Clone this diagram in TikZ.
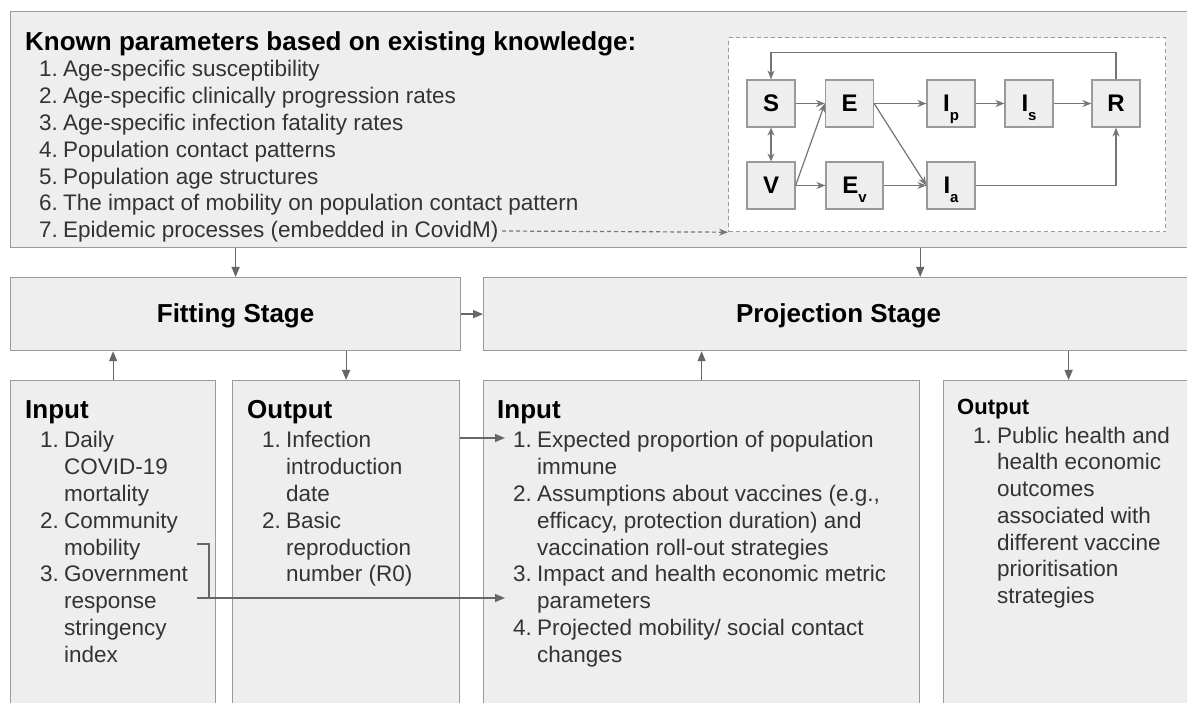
\documentclass[tikz,border=0pt]{standalone}
\usepackage{fontspec}
\setmainfont{Liberation Sans}
\usetikzlibrary{arrows.meta}
\definecolor{boxfill}{HTML}{EEEEEE}
\definecolor{boxline}{HTML}{9A9A9A}
\definecolor{connc}{HTML}{666666}
\definecolor{txtc}{HTML}{333333}
\newcommand\lnum[1]{\makebox[24pt][l]{#1}}
\newcommand\lind{\hspace*{24pt}}
\newcommand\subsc[1]{\raisebox{-9pt}{\fontsize{15}{15}\selectfont #1}}
\begin{document}
\begin{tikzpicture}[x=1pt,y=-1pt,
  panel/.style={draw=boxline, fill=boxfill, line width=1.2pt, inner sep=0pt, anchor=north west},
  seir/.style={draw=boxline, fill=boxfill, line width=1.2pt, minimum width=48pt, minimum height=47pt,
     inner sep=0pt, font=\fontsize{24}{24}\selectfont\bfseries, text height=17pt, text depth=0pt},
  conn/.style={draw=connc, line width=1.2pt, -{Triangle[length=10pt,width=8pt]}},
  plainline/.style={draw=connc, line width=1.2pt},
  sconn/.style={draw=connc!90, line width=1.2pt, -{Stealth[length=9pt,width=7pt]}},
  headtxt/.style={inner sep=0pt, anchor=base west, font=\fontsize{26}{30}\selectfont\bfseries},
  stagetxt/.style={inner sep=0pt, anchor=base, font=\fontsize{26}{30}\selectfont\bfseries},
  listtxt/.style={inner sep=0pt, anchor=base west, text=txtc, font=\fontsize{22.5}{26.8}\selectfont},
]
\useasboundingbox (0,0) rectangle (1187,703);
\fill[white] (0,0) rectangle (1187,703);
\clip (0,0) rectangle (1187,703);

% panels
\node[panel, minimum width=1183pt, minimum height=236pt] (top) at (10,11) {};
\node[panel, minimum width=450pt, minimum height=73pt] (fit) at (10,277) {};
\node[panel, minimum width=710pt, minimum height=73pt] (proj) at (483,277) {};
\node[panel, minimum width=205pt, minimum height=340pt] (inL) at (10,380) {};
\node[panel, minimum width=227pt, minimum height=340pt] (outL) at (232,380) {};
\node[panel, minimum width=436pt, minimum height=340pt] (inP) at (483,380) {};
\node[panel, minimum width=250pt, minimum height=340pt] (outP) at (943,380) {};

% dashed model box
\node[draw=boxline, fill=white, line width=1.2pt, dash pattern=on 4pt off 3pt, inner sep=0pt,
      anchor=north west, minimum width=437pt, minimum height=194pt] (dbox) at (728,37) {};

% top text
\node[headtxt] (title) at (25,51) {Known parameters based on existing knowledge:};
\node[listtxt] (klist) at (39,77) {\begin{tabular}[t]{@{}l@{}}
\lnum{1.}Age-specific susceptibility\\
\lnum{2.}Age-specific clinically progression rates\\
\lnum{3.}Age-specific infection fatality rates\\
\lnum{4.}Population contact patterns\\
\lnum{5.}Population age structures\\
\lnum{6.}The impact of mobility on population contact pattern\\
\lnum{7.}Epidemic processes (embedded in CovidM)
\end{tabular}};

% stage text
\node[stagetxt] (fitT) at (fit.center |- 0,323) {Fitting Stage};
\node[stagetxt] (projT) at (proj.center |- 0,323) {Projection Stage};

% lower boxes text
\node[headtxt] (inLh) at (25,419) {Input};
\node[listtxt] (inLl) at (40,448) {\begin{tabular}[t]{@{}l@{}}
\lnum{1.}Daily\\ \lind COVID-19\\ \lind mortality\\
\lnum{2.}Community\\ \lind mobility\\
\lnum{3.}Government\\ \lind response\\ \lind stringency\\ \lind index
\end{tabular}};

\node[headtxt] (outLh) at (247,419) {Output};
\node[listtxt] (outLl) at (262,448) {\begin{tabular}[t]{@{}l@{}}
\lnum{1.}Infection\\ \lind introduction\\ \lind date\\
\lnum{2.}Basic\\ \lind reproduction\\ \lind number (R0)
\end{tabular}};

\node[headtxt] (inPh) at (497,419) {Input};
\node[listtxt] (inPl) at (513,448) {\begin{tabular}[t]{@{}l@{}}
\lnum{1.}Expected proportion of population\\ \lind immune\\
\lnum{2.}Assumptions about vaccines (e.g.,\\ \lind efficacy, protection duration) and\\ \lind vaccination roll-out strategies\\
\lnum{3.}Impact and health economic metric\\ \lind parameters\\
\lnum{4.}Projected mobility/ social contact\\ \lind changes
\end{tabular}};

\node[headtxt, font=\fontsize{22}{26}\selectfont\bfseries] (outPh) at (957,415) {Output};
\node[listtxt] (outPl) at (973,443) {\begin{tabular}[t]{@{}l@{}}
\lnum{1.}Public health and\\ \lind health economic\\ \lind outcomes\\ \lind associated with\\
\lind different vaccine\\ \lind prioritisation\\ \lind strategies
\end{tabular}};

% SEIR model
\node[seir] (S) at (771,103.5) {S};
\node[seir] (E) at (849.5,103.5) {E};
\node[seir] (Ip) at (951,103.5) {I\subsc{p}};
\node[seir] (Is) at (1029,103.5) {I\subsc{s}};
\node[seir] (R) at (1116,103.5) {R};
\node[seir] (V) at (771,185.5) {V};
\node[seir, minimum width=57pt] (Ev) at (854.5,185.5) {E\subsc{v}};
\node[seir] (Ia) at (951,185.5) {I\subsc{a}};

\draw[sconn] (S) -- (E);
\draw[sconn] (V.east) -- (E.west);
\draw[sconn] (E) -- (Ip);
\draw[sconn] (Ip) -- (Is);
\draw[sconn] (Is) -- (R);
\draw[sconn] (E.east) -- (Ia.west);
\draw[sconn] (V) -- (Ev);
\draw[sconn] (Ev) -- (Ia);
\draw[sconn] (Ia.east) -| (R.south);
\draw[sconn] (R.north) -- ++(0,-27) -| (S.north);
\draw[draw=connc!90, line width=1.2pt, {Stealth[length=8pt,width=7pt]}-{Stealth[length=8pt,width=7pt]}] (S.south) -- (V.north);

% dashed arrow
\coordinate (d0) at (502,231);
\draw[draw=connc!90, line width=1.2pt, dash pattern=on 4pt off 3pt, -{Stealth[length=9pt,width=7pt]}] (d0) -- (dbox.south west);

% main connectors
\draw[conn] (top.south -| fit.north) -- (fit.north);
\draw[conn] (top.south -| inP.east) -- (proj.north -| inP.east);
\draw[conn] (fit.east) -- (proj.west);
\draw[conn] (inL.north) -- (inL.north |- fit.south);
\draw[conn] (outL.north |- fit.south) -- (outL.north);
\draw[conn] (inP.north) -- (inP.north |- proj.south);
\draw[conn] (outP.north |- proj.south) -- (outP.north);

\coordinate (a1) at (505,438);
\draw[conn] (outL.east |- a1) -- (a1);
\coordinate (b1) at (197,544);
\coordinate (b2) at (209,598);
\coordinate (b3) at (505,598);
\draw[plainline] (b1) -| (b2);
\draw[conn] (b1 |- b2) -- (b3);
\end{tikzpicture}
\end{document}
